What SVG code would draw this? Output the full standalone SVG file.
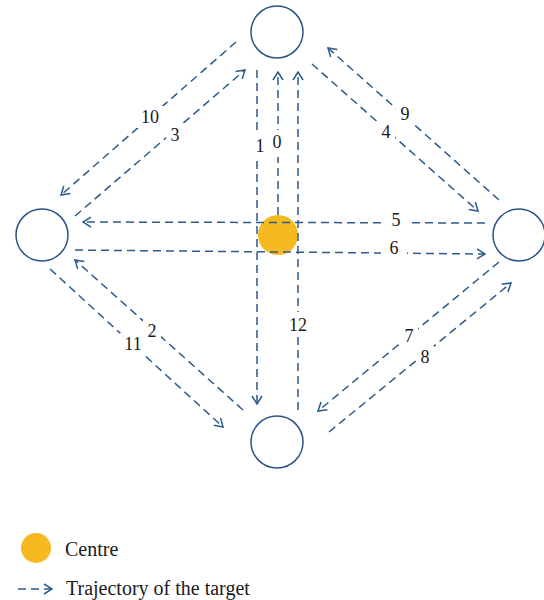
<svg xmlns="http://www.w3.org/2000/svg" width="544" height="600" viewBox="0 0 544 600">
<style>
.node{fill:#fff;stroke:#2B5486;stroke-width:1.5}
.ctr{fill:#F6B91F}
.traj{fill:none;stroke:#2E5A8C;stroke-width:1.5;stroke-dasharray:8 5;marker-end:url(#ah)}
.lbl{font-family:"Liberation Serif","Times New Roman",serif;font-size:18px;fill:#1a1a1a;text-anchor:middle}
.bg{fill:#fff}
.leg{font-family:"Liberation Serif","Times New Roman",serif;font-size:20px;fill:#1a1a1a}
</style>
<defs>
<marker id="ah" viewBox="0 0 10 12" refX="9" refY="6" markerWidth="10" markerHeight="12" markerUnits="userSpaceOnUse" orient="auto">
<path d="M1,1 L9,6 L1,11" fill="none" stroke="#2E5A8C" stroke-width="1.5"/>
</marker>
</defs>
<rect width="544" height="600" fill="#fff"/>
<g id="centre"><circle class="ctr" cx="278" cy="235" r="20"/></g>
<g id="connectors">
<line class="traj" x1="257" y1="70" x2="257" y2="404"/>
<line class="traj" x1="278" y1="215" x2="278" y2="72"/>
<line class="traj" x1="298" y1="410" x2="298" y2="72"/>
<line class="traj" x1="485" y1="223" x2="83" y2="222"/>
<line class="traj" x1="75" y1="250" x2="485" y2="254"/>
<line class="traj" x1="236" y1="42" x2="61" y2="195"/>
<line class="traj" x1="75" y1="216" x2="245" y2="70"/>
<line class="traj" x1="312" y1="64" x2="478" y2="211"/>
<line class="traj" x1="499" y1="200" x2="328" y2="48"/>
<line class="traj" x1="499" y1="262" x2="318" y2="411"/>
<line class="traj" x1="329" y1="432" x2="511" y2="283"/>
<line class="traj" x1="50" y1="269" x2="223" y2="427"/>
<line class="traj" x1="243" y1="410" x2="75" y2="260"/>
</g>
<g id="labels">
<rect class="bg" x="137" y="106" width="27" height="22"/><text class="lbl" x="150" y="123">10</text>
<rect class="bg" x="166" y="124" width="18" height="22"/><text class="lbl" x="175" y="141">3</text>
<rect class="bg" x="251" y="134" width="17" height="23"/><text class="lbl" x="260" y="152">1</text>
<rect class="bg" x="270" y="130" width="15" height="27"/><text class="lbl" x="277" y="148">0</text>
<rect class="bg" x="396" y="103" width="18" height="22"/><text class="lbl" x="405" y="120">9</text>
<rect class="bg" x="377" y="121" width="18" height="22"/><text class="lbl" x="386" y="138">4</text>
<rect class="bg" x="383" y="209" width="26" height="22"/><text class="lbl" x="396" y="226">5</text>
<rect class="bg" x="381" y="237" width="26" height="22"/><text class="lbl" x="394" y="254">6</text>
<rect class="bg" x="120" y="333" width="26" height="22"/><text class="lbl" x="133" y="350">11</text>
<rect class="bg" x="143" y="320" width="18" height="22"/><text class="lbl" x="152" y="337">2</text>
<rect class="bg" x="286" y="312" width="24" height="24"/><text class="lbl" x="298" y="331">12</text>
<rect class="bg" x="400" y="325" width="18" height="22"/><text class="lbl" x="409" y="342">7</text>
<rect class="bg" x="416" y="346" width="18" height="22"/><text class="lbl" x="425" y="363">8</text>
</g>
<g id="node-top"><circle class="node" cx="277" cy="32" r="26"/></g>
<g id="node-left"><circle class="node" cx="42" cy="235" r="26"/></g>
<g id="node-right"><circle class="node" cx="519" cy="235" r="26"/></g>
<g id="node-bottom"><circle class="node" cx="277" cy="442" r="26"/></g>
<g id="legend">
<circle class="ctr" cx="36" cy="548" r="15"/>
<text class="leg" x="65" y="556">Centre</text>
<line class="traj" x1="18" y1="589" x2="52" y2="589"/>
<text class="leg" x="66" y="595">Trajectory of the target</text>
</g>
</svg>
